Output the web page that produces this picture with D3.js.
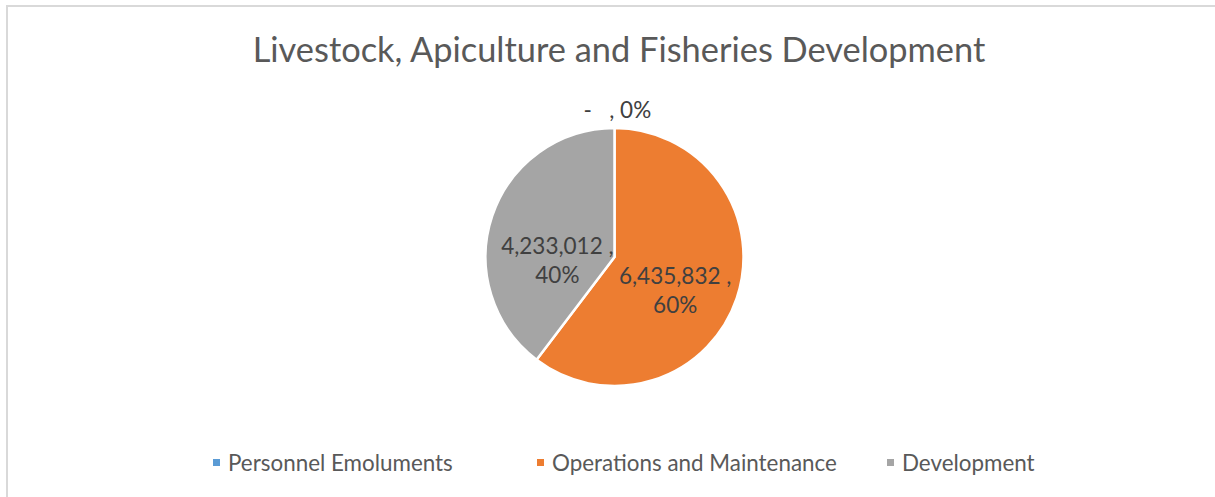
<!DOCTYPE html>
<html>
<head>
<meta charset="utf-8">
<script src="https://cdn.jsdelivr.net/npm/d3@7"></script>
<style>
  html, body { margin: 0; padding: 0; background: #fff; }
  svg { display: block; }
  text { font-family: Lato, "Open Sans", sans-serif; }
</style>
</head>
<body>
<svg id="chart" width="1215" height="497"></svg>
<script>
// Budget allocation by expenditure category
const title = "Livestock, Apiculture and Fisheries Development";
const categories = ["Personnel Emoluments", "Operations and Maintenance", "Development"];
const amounts = [0, 6435832, 4233012];
const amountLabels = [" -   ", "6,435,832 ", "4,233,012 "];
const colors = ["#5B9BD5", "#ED7D31", "#A5A5A5"];

const W = 1215, H = 497;
const svg = d3.select("#chart");

// chart frame
svg.append("rect")
  .attr("x", 7).attr("y", 6)
  .attr("width", W + 10).attr("height", H + 10)
  .attr("fill", "#fff").attr("stroke", "#d9d9d9").attr("stroke-width", 2);

svg.append("text")
  .attr("x", 619).attr("y", 62)
  .attr("text-anchor", "middle")
  .attr("font-size", 34.4)
  .attr("fill", "#595959")
  .text(title);

const cx = 614.5, cy = 257, R = 129;
const total = d3.sum(amounts);
const pct = d3.format(".0%");

const pie = d3.pie().sort(null).value(d => d.value).startAngle(0).endAngle(2 * Math.PI);
const rows = categories.map((c, i) => ({ name: c, value: amounts[i], label: amountLabels[i], color: colors[i] }));
const arcs = pie(rows);

const arc = d3.arc().innerRadius(0).outerRadius(R);
const g = svg.append("g").attr("transform", `translate(${cx},${cy})`);

g.selectAll("path.slice")
  .data(arcs.filter(d => d.value > 0))
  .join("path")
  .attr("class", "slice")
  .attr("d", arc)
  .attr("fill", d => d.data.color)
  .attr("stroke", "#fff")
  .attr("stroke-width", 2.5)
  .attr("stroke-linejoin", "round");

// data labels: amount and share
const labelFont = 22.5;
const labelArc = d3.arc().innerRadius(64).outerRadius(64);
const nudges = [[0, 0], [0, 13], [3.5, 23.7]];
const lineH = 29;
arcs.forEach((d, i) => {
  const share = pct(d.value / total);
  let x, y;
  if (d.value === 0) {
    x = 0; y = -R - 18;
    g.append("text")
      .attr("x", x).attr("y", y + 8)
      .attr("text-anchor", "middle")
      .attr("font-size", labelFont).attr("fill", "#404040")
      .attr("xml:space", "preserve")
      .text(d.data.label + ", " + share);
    return;
  }
  [x, y] = labelArc.centroid(d);
  x += nudges[i][0]; y += nudges[i][1];
  const t = g.append("text")
    .attr("text-anchor", "middle")
    .attr("font-size", labelFont).attr("fill", "#404040")
    .attr("xml:space", "preserve");
  t.append("tspan").attr("x", x).attr("y", y - lineH / 2 + 8).text(d.data.label + ",");
  t.append("tspan").attr("x", x).attr("y", y + lineH / 2 + 8).text(share);
});

// legend
const legendX = [213, 537, 887];
const legendY = 463;
const lg = svg.append("g");
categories.forEach((c, i) => {
  lg.append("rect")
    .attr("x", legendX[i]).attr("y", legendY - 4)
    .attr("width", 7).attr("height", 7)
    .attr("fill", colors[i]);
  lg.append("text")
    .attr("x", legendX[i] + 15).attr("y", legendY + 8)
    .attr("font-size", 22.4).attr("fill", "#595959")
    .text(c);
});
</script>
</body>
</html>
